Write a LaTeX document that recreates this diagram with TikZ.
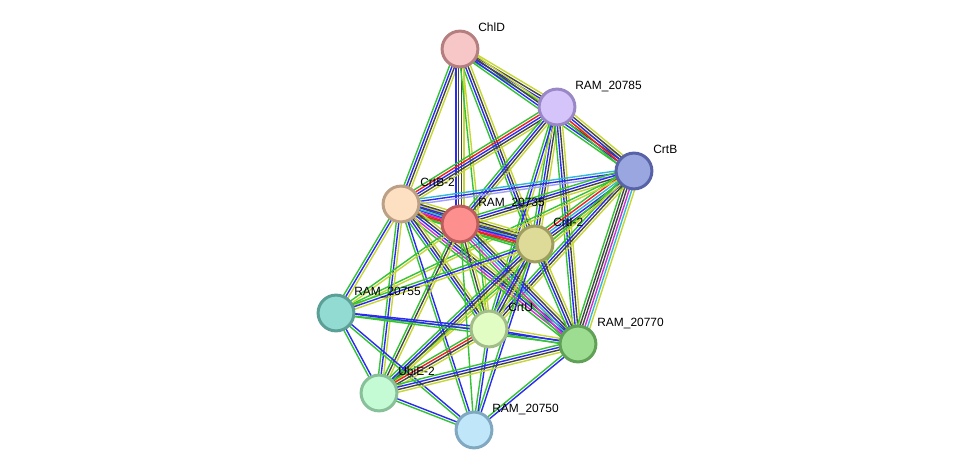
\documentclass[tikz,border=0pt]{standalone}
\usepackage{fontspec}
\setmainfont{Liberation Sans}
\usetikzlibrary{calc,backgrounds}
% evidence channels
\definecolor{nbh}{HTML}{35C235}
\definecolor{fus}{HTML}{F02020}
\definecolor{coo}{HTML}{2A2AF0}
\definecolor{coe}{HTML}{444444}
\definecolor{expt}{HTML}{D030D0}
\definecolor{dbs}{HTML}{30B8D8}
\definecolor{txm}{HTML}{C6D634}
\definecolor{hom}{HTML}{A0A0F8}
% proteins
\definecolor{chldfill}{HTML}{F7C6C6}\definecolor{chldline}{HTML}{B57F7F}
\definecolor{r85fill}{HTML}{D4C4FA}\definecolor{r85line}{HTML}{9A88C6}
\definecolor{crtbfill}{HTML}{9AA6E0}\definecolor{crtbline}{HTML}{5862A6}
\definecolor{crtbbfill}{HTML}{FDE0C2}\definecolor{crtbbline}{HTML}{BCA086}
\definecolor{r35fill}{HTML}{FE8F8F}\definecolor{r35line}{HTML}{BD5C5C}
\definecolor{crtifill}{HTML}{DDDB97}\definecolor{crtiline}{HTML}{A09E5E}
\definecolor{r55fill}{HTML}{92DBD2}\definecolor{r55line}{HTML}{5C9F96}
\definecolor{crtufill}{HTML}{E2FDC4}\definecolor{crtuline}{HTML}{A2BD88}
\definecolor{r70fill}{HTML}{9CDD91}\definecolor{r70line}{HTML}{60A057}
\definecolor{ubiefill}{HTML}{C4FBD5}\definecolor{ubieline}{HTML}{88C09A}
\definecolor{r50fill}{HTML}{C0E6FA}\definecolor{r50line}{HTML}{80A8C0}

\tikzset{
  protein/.style={circle, line width=1.7pt, minimum size=20.4pt, inner sep=0pt},
  plabel/.style={anchor=base west, inner sep=0pt, font=\fontsize{6.8}{8}\selectfont},
}

% one line per evidence channel, side by side
\newcommand{\bundle}[3]{%
  \foreach \c [count=\i] in {#3} {\xdef\nlines{\i}}%
  \foreach \c [count=\i] in {#3} {%
    \pgfmathsetmacro{\off}{(\i-(\nlines+1)/2)*1.45}%
    \draw[color=\c, line width=0.8pt] ($(#1.center)!\off pt!90:(#2.center)$) -- ($(#2.center)!\off pt!-90:(#1.center)$);
  }%
}

\begin{document}
\begin{tikzpicture}[x=0.02cm,y=-0.02cm]
\useasboundingbox (0,0) rectangle (975,476);

% nodes
\node[protein, draw=chldline, fill=chldfill] (chld) at (460,49) {};
\node[protein, draw=r85line, fill=r85fill] (r85) at (557,107) {};
\node[protein, draw=crtbline, fill=crtbfill] (crtb) at (634,171) {};
\node[protein, draw=crtbbline, fill=crtbbfill] (crtb2) at (401,204) {};
\node[protein, draw=r35line, fill=r35fill] (r35) at (460,224) {};
\node[protein, draw=crtiline, fill=crtifill] (crti) at (535,244) {};
\node[protein, draw=r55line, fill=r55fill] (r55) at (336,313) {};
\node[protein, draw=crtuline, fill=crtufill] (crtu) at (489,329) {};
\node[protein, draw=r70line, fill=r70fill] (r70) at (578,344) {};
\node[protein, draw=ubieline, fill=ubiefill] (ubie) at (379,393) {};
\node[protein, draw=r50line, fill=r50fill] (r50) at (474,430) {};

% labels
\node[plabel] (chld-l) at (478,32) {ChlD};
\node[plabel] (r85-l) at (575,90) {RAM\_20785};
\node[plabel] (crtb-l) at (653,154) {CrtB};
\node[plabel] (crtb2-l) at (420,187) {CrtB-2};
\node[plabel] (r35-l) at (478,207) {RAM\_20735};
\node[plabel] (crti-l) at (553,227) {CrtI-2};
\node[plabel] (r55-l) at (354,296) {RAM\_20755};
\node[plabel] (crtu-l) at (508,312) {CrtU};
\node[plabel] (r70-l) at (597,327) {RAM\_20770};
\node[plabel] (ubie-l) at (398,376) {UbiE-2};
\node[plabel] (r50-l) at (492,413) {RAM\_20750};

% edges
\begin{pgfonlayer}{background}
\bundle{chld}{r85}{nbh,coo,coe,txm}
\bundle{chld}{crtb}{nbh,coo,coe,txm}
\bundle{chld}{crtb2}{nbh,coo,coe,txm}
\bundle{chld}{r35}{coo,coe,coe,txm}
\bundle{chld}{crti}{nbh,coo,coe,txm}
\bundle{chld}{crtu}{nbh,txm}
\bundle{r85}{crtb}{nbh,fus,coo,coe,txm}
\bundle{r85}{crtb2}{nbh,fus,coo,coe,txm}
\bundle{r85}{r35}{nbh,coo,coe,txm}
\bundle{r85}{crti}{nbh,coo,coe,txm}
\bundle{r85}{crtu}{nbh,coo,txm}
\bundle{r85}{r70}{nbh,coo,coe,txm}
\bundle{crtb}{crtb2}{dbs,coo,hom}
\bundle{crtb}{r35}{nbh,coo,coe,txm}
\bundle{crtb}{crti}{nbh,fus,dbs,coo,coe,txm}
\bundle{crtb}{r70}{nbh,coe,coe,expt,dbs,txm}
\bundle{crtb}{crtu}{nbh,coo,coe,txm}
\bundle{crtb}{ubie}{nbh,txm}
\bundle{crtb}{r55}{nbh,txm}
\bundle{crtb2}{r35}{nbh,fus,coo,coe,txm}
\bundle{crtb2}{crti}{nbh,fus,expt,dbs,coo,coe,txm}
\bundle{crtb2}{r70}{nbh,expt,coo,coe,txm}
\bundle{crtb2}{r55}{nbh,coo,txm}
\bundle{crtb2}{ubie}{nbh,coo,txm}
\bundle{crtb2}{crtu}{nbh,coo,coe,txm}
\bundle{crtb2}{r50}{nbh,coo}
\bundle{r35}{crti}{nbh,fus,coo,coe,txm}
\bundle{r35}{r70}{nbh,expt,dbs,coo,coe,txm}
\bundle{r35}{crtu}{nbh,coe,txm}
\bundle{r35}{r55}{nbh,txm}
\bundle{r35}{ubie}{nbh,coe,txm}
\bundle{r35}{r50}{nbh}
\bundle{crti}{crtu}{nbh,coo,coe,txm}
\bundle{crti}{r70}{nbh,coo,coe,txm}
\bundle{crti}{r55}{nbh,coo,txm}
\bundle{crti}{ubie}{nbh,coo,coe,txm}
\bundle{crti}{r50}{nbh,coo}
\bundle{r55}{crtu}{nbh,coo}
\bundle{r55}{r70}{nbh,coo}
\bundle{r55}{ubie}{nbh,coo}
\bundle{r55}{r50}{nbh,coo}
\bundle{crtu}{r70}{nbh,coo,txm}
\bundle{crtu}{ubie}{nbh,fus,coe,txm}
\bundle{crtu}{r50}{nbh,coo}
\bundle{r70}{ubie}{nbh,coo,coe,txm}
\bundle{r70}{r50}{nbh,coo}
\bundle{ubie}{r50}{nbh,coo}
\end{pgfonlayer}
\end{tikzpicture}
\end{document}
